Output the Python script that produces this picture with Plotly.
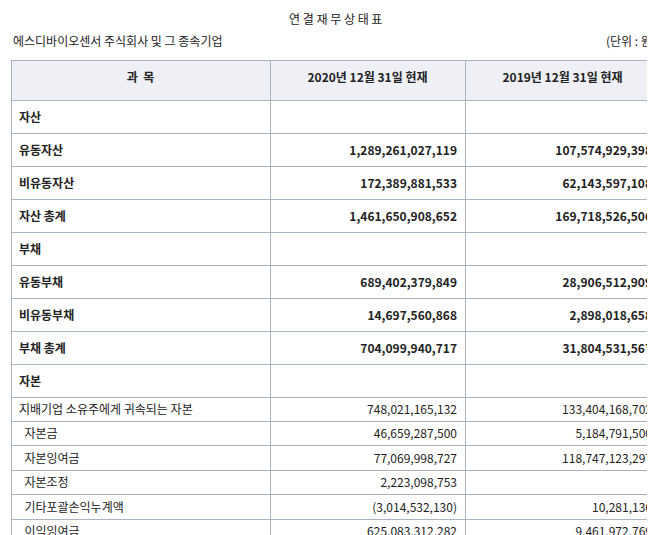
import plotly.graph_objects as go

items = ["자산","유동자산","비유동자산","자산 총계","부채","유동부채","비유동부채","부채 총계","자본",
         "지배기업 소유주에게 귀속되는 자본","자본금","자본잉여금","자본조정","기타포괄손익누계액","이익잉여금",
         "비지배주주지분","자본 총계","자본 및 부채 총계"]
y2020 = ["","1,289,261,027,119","172,389,881,533","1,461,650,908,652","","689,402,379,849","14,697,560,868",
         "704,099,940,717","","748,021,165,132","46,659,287,500","77,069,998,727","2,223,098,753",
         "(3,014,532,130)","625,083,312,282","9,529,802,803","757,550,967,935","1,461,650,908,652"]
y2019 = ["","107,574,929,398","62,143,597,108","169,718,526,506","","28,906,512,909","2,898,018,658",
         "31,804,531,567","","133,404,168,702","5,184,791,500","118,747,123,297","-",
         "10,281,136","9,461,972,769","4,509,826,237","137,913,994,939","169,718,526,506"]
bold = [1,1,1,1,1,1,1,1,1,0,0,0,0,0,0,1,1,1]
indent = [0,0,0,0,0,0,0,0,0,0,1,1,1,1,1,0,0,0]
headers = ["과  목","2020년 12월 31일 현재","2019년 12월 31일 현재"]

def fmt(s, b, ind=0):
    s = ("\u00a0\u00a0" if ind else "") + s
    return f"<b>{s}</b>" if b and s else s

c0 = [fmt(s, b, i) for s, b, i in zip(items, bold, indent)]
c1 = [fmt(s, b) for s, b in zip(y2020, bold)]
c2 = [fmt(s, b) for s, b in zip(y2019, bold)]

W, H = 655, 535
fig = go.Figure(go.Table(
    domain=dict(x=[3/W, 652/W], y=[0, 1-52/H]),
    columnwidth=[259, 195, 195],
    header=dict(values=[f"<b>{h}</b>" for h in headers], height=40,
                fill_color="#eef0f6", line=dict(color="#a9b3c2", width=1),
                align="center", font=dict(family="Noto Sans CJK KR", size=12, color="#222")),
    cells=dict(values=[c0, c1, c2], height=24.4,
               fill_color="white", line=dict(color="#a9b3c2", width=1),
               align=["left","right","right"],
               font=dict(family="Noto Sans CJK KR", size=12, color="#222")),
))
fig.update_layout(width=W, height=H, margin=dict(l=0, r=0, t=0, b=0), paper_bgcolor="white",
    annotations=[
        dict(text="연 결 재 무 상 태 표", x=0.5, y=1-10/H, xref="paper", yref="paper", showarrow=False,
             xanchor="center", yanchor="middle", font=dict(family="Noto Sans CJK KR", size=12, color="#222")),
        dict(text="에스디바이오센서 주식회사 및 그 종속기업", x=3/W, y=1-33/H, xref="paper", yref="paper",
             showarrow=False, xanchor="left", yanchor="middle", font=dict(family="Noto Sans CJK KR", size=12, color="#222")),
        dict(text="(단위 : 원)", x=650/W, y=1-33/H, xref="paper", yref="paper", showarrow=False,
             xanchor="right", yanchor="middle", font=dict(family="Noto Sans CJK KR", size=12, color="#222")),
    ])
fig.write_html("out.html")
